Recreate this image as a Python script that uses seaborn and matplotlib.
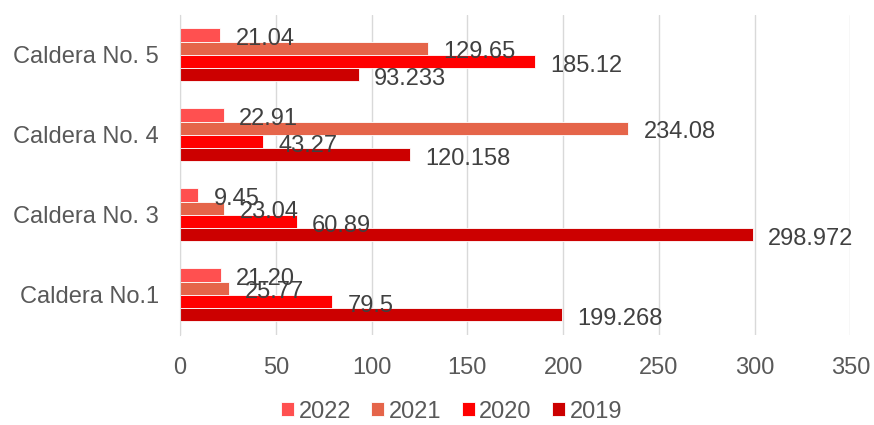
import pandas as pd
import matplotlib.pyplot as plt
import seaborn as sns

calderas = ['Caldera No. 5', 'Caldera No. 4', 'Caldera No. 3', 'Caldera No.1']
years = ['2022', '2021', '2020', '2019']
v2022 = [21.04, 22.91, 9.45, 21.20]
v2021 = [129.65, 234.08, 23.04, 25.77]
v2020 = [185.12, 43.27, 60.89, 79.5]
v2019 = [93.233, 120.158, 298.972, 199.268]
lab2022 = ['21.04', '22.91', '9.45', '21.20']
lab2021 = ['129.65', '234.08', '23.04', '25.77']
lab2020 = ['185.12', '43.27', '60.89', '79.5']
lab2019 = ['93.233', '120.158', '298.972', '199.268']
colors = ['#FF5050', '#E5654A', '#FF0000', '#CC0000']

rows = []
for yr, vals in zip(years, [v2022, v2021, v2020, v2019]):
    for c, v in zip(calderas, vals):
        rows.append({'caldera': c, 'year': yr, 'value': v})
df = pd.DataFrame(rows)

sns.set_style('white')
plt.rcParams['font.family'] = ['Liberation Sans', 'DejaVu Sans']

fig = plt.figure(figsize=(8.74, 4.25), dpi=100)
ax = fig.add_axes([0.206, 0.212, 0.767, 0.753])

sns.barplot(data=df, x='value', y='caldera', hue='year', order=calderas,
            hue_order=years, palette=colors, orient='h', width=0.66,
            edgecolor='white', linewidth=0.6, saturation=1, ax=ax)

for cont, labs in zip(ax.containers, [lab2022, lab2021, lab2020, lab2019]):
    for bar, t in zip(cont, labs):
        ax.annotate(t, (bar.get_width(), bar.get_y() + bar.get_height() / 2),
                    xytext=(11, -3), textcoords='offset points',
                    ha='left', va='center', fontsize=17, color='#404040')

ax.set_xlim(0, 350)
ax.set_xticks(range(0, 351, 50))
ax.grid(axis='x', color='#D9D9D9', linewidth=1)
ax.set_axisbelow(True)
for s in ['top', 'right', 'bottom']:
    ax.spines[s].set_visible(False)
ax.spines['left'].set_color('#D9D9D9')
ax.set_xlabel('')
ax.set_ylabel('')
ax.tick_params(axis='y', length=0, labelsize=17, labelcolor='#595959', pad=15)
ax.tick_params(axis='x', length=0, labelsize=17, labelcolor='#595959', pad=16)

ax.legend(loc='center', bbox_to_anchor=(0.405, -0.24), ncol=4, frameon=False,
          fontsize=17, labelcolor='#595959', handlelength=0.55, handleheight=0.55,
          handletextpad=0.2, columnspacing=0.85)

fig.savefig('out.png', dpi=100)
